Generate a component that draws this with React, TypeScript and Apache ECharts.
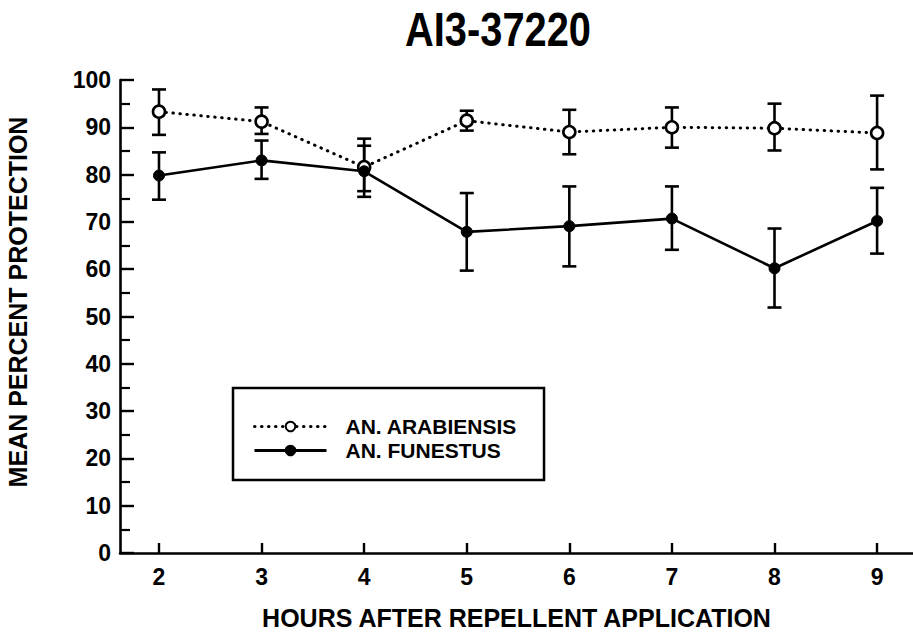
import React, { useEffect, useRef } from "react";
import * as echarts from "echarts";

const hours = [2, 3, 4, 5, 6, 7, 8, 9];
const xTicks = [2, 3, 4, 5, 6, 7, 8, 9];
const arabMean = [93.3, 91.2, 81.6, 91.4, 89.0, 90.0, 89.8, 88.8];
const arabLow = [88.4, 88.6, 76.5, 89.3, 84.3, 85.7, 85.1, 81.1];
const arabHigh = [98.0, 94.2, 87.6, 93.5, 93.7, 94.2, 95.0, 96.7];
const funMean = [79.8, 83.0, 80.7, 67.9, 69.1, 70.7, 60.2, 70.2];
const funLow = [74.7, 79.1, 75.3, 59.7, 60.6, 64.1, 51.9, 63.3];
const funHigh = [84.7, 87.2, 86.1, 76.1, 77.5, 77.5, 68.6, 77.2];

const FONT = "Liberation Sans";

function errorSeries(name: string, low: number[], high: number[]) {
  return {
    type: "custom",
    name,
    z: 3,
    data: hours.map((h, i) => [h, low[i], high[i]]),
    renderItem: (params: any, api: any) => {
      const x = api.value(0);
      const lo = api.coord([x, api.value(1)]);
      const hi = api.coord([x, api.value(2)]);
      const cw = 7;
      const style = { stroke: "#000", lineWidth: 2.6 };
      return {
        type: "group",
        children: [
          { type: "line", shape: { x1: lo[0], y1: lo[1], x2: hi[0], y2: hi[1] }, style },
          { type: "line", shape: { x1: lo[0] - cw, y1: lo[1], x2: lo[0] + cw, y2: lo[1] }, style },
          { type: "line", shape: { x1: hi[0] - cw, y1: hi[1], x2: hi[0] + cw, y2: hi[1] }, style },
        ],
      };
    },
  };
}

export default function App() {
  const ref = useRef<HTMLDivElement>(null);
  useEffect(() => {
    const chart = echarts.init(ref.current!, null, { renderer: "svg" });
    chart.setOption({
      animation: false,
      backgroundColor: "#fff",
      textStyle: { fontFamily: FONT },
      grid: { left: 120, right: 0, top: 80, bottom: 80, containLabel: false },
      graphic: [
        {
          type: "text",
          x: 498,
          y: 29,
          scaleX: 0.83,
          style: {
            text: "AI3-37220",
            font: `bold 48px "${FONT}"`,
            fill: "#000",
            align: "center",
            verticalAlign: "middle",
          },
        },
        {
          type: "text",
          x: 18,
          y: 302,
          rotation: Math.PI / 2,
          style: {
            text: "MEAN PERCENT PROTECTION",
            font: `bold 25px "${FONT}"`,
            fill: "#000",
            align: "center",
            verticalAlign: "middle",
          },
        },
      ],
      legend: {
        data: [
          { name: "AN. ARABIENSIS", lineStyle: { width: 3, type: [0.5, 6.5], cap: "round" } },
          { name: "AN. FUNESTUS", lineStyle: { width: 3, type: "solid" } },
        ],
        orient: "vertical",
        left: 233,
        top: 388,
        itemWidth: 72,
        itemHeight: 12,
        itemGap: 3,
        padding: [28, 27, 19, 20],
        borderColor: "#000",
        borderWidth: 2.5,
        backgroundColor: "#fff",
        selectedMode: false,
        textStyle: {
          fontFamily: FONT,
          fontWeight: "bold",
          fontSize: 21,
          color: "#000",
          padding: [0, 0, 0, 14],
        },
      },
      xAxis: {
        type: "value",
        min: 1.62,
        max: 9.35,
        name: "HOURS AFTER REPELLENT APPLICATION",
        nameLocation: "middle",
        nameGap: 52,
        nameTextStyle: { fontFamily: FONT, fontWeight: "bold", fontSize: 25, color: "#000" },
        axisLine: { lineStyle: { color: "#000", width: 2.6 } },
        axisTick: { inside: true, length: 10, customValues: xTicks, lineStyle: { color: "#000", width: 2.4 } },
        axisLabel: {
          customValues: xTicks,
          margin: 12,
          fontFamily: FONT,
          fontWeight: "bold",
          fontSize: 23,
          color: "#000",
        },
        splitLine: { show: false },
      },
      yAxis: {
        type: "value",
        min: 0,
        max: 100,
        interval: 10,
        axisLine: { show: true, lineStyle: { color: "#000", width: 2.6 } },
        axisTick: { inside: true, length: 14, lineStyle: { color: "#000", width: 2.4 } },
        minorTick: { show: true, splitNumber: 2, length: 10, lineStyle: { color: "#000", width: 2.2 } },
        axisLabel: { margin: 9, fontFamily: FONT, fontWeight: "bold", fontSize: 23, color: "#000" },
        splitLine: { show: false },
      },
      series: [
        errorSeries("arabErr", arabLow, arabHigh),
        errorSeries("funErr", funLow, funHigh),
        {
          type: "line",
          name: "AN. ARABIENSIS",
          z: 4,
          data: hours.map((h, i) => [h, arabMean[i]]),
          symbol: "circle",
          symbolSize: 12,
          itemStyle: { color: "#fff", borderColor: "#000", borderWidth: 2.6 },
          lineStyle: { color: "#000", width: 3, type: [0.5, 6.5], cap: "round" },
        },
        {
          type: "line",
          name: "AN. FUNESTUS",
          z: 4,
          data: hours.map((h, i) => [h, funMean[i]]),
          symbol: "circle",
          symbolSize: 11,
          itemStyle: { color: "#000", borderColor: "#000", borderWidth: 1 },
          lineStyle: { color: "#000", width: 2.6, type: "solid" },
        },
      ],
    });
    return () => chart.dispose();
  }, []);
  return (
    <div
      ref={ref}
      style={{ position: "fixed", left: 0, top: 0, width: 913, height: 635 }}
    />
  );
}
